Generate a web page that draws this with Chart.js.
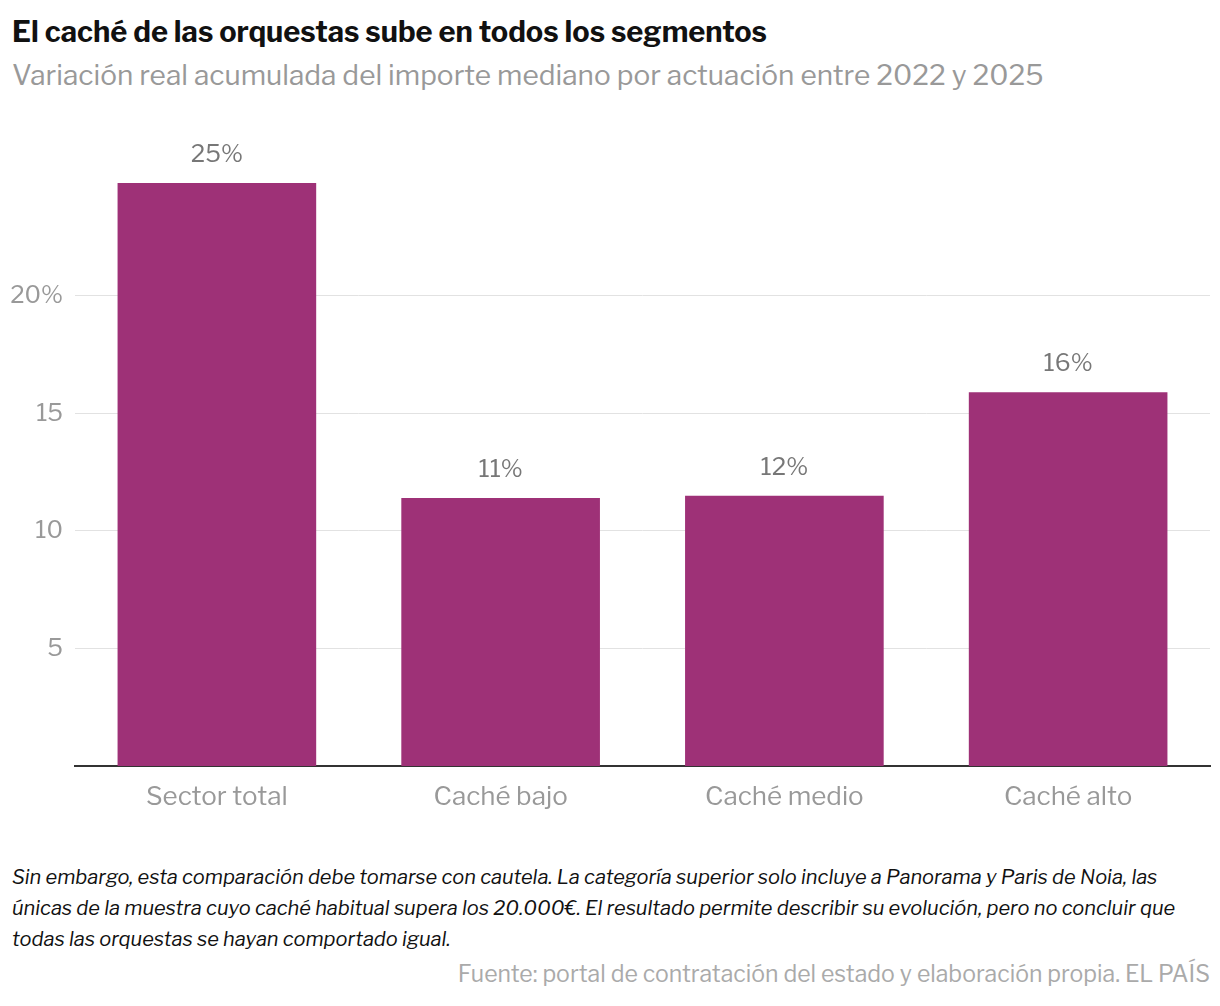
<!DOCTYPE html>
<html><head><meta charset="utf-8">
<script src="https://cdn.jsdelivr.net/npm/chart.js@4"></script>
<style>
body{margin:0;width:1220px;height:1006px;background:#fff;font-family:"Libre Franklin","Roboto",sans-serif;position:relative;overflow:hidden}
#t{position:absolute;left:12px;top:14px;font-size:29px;font-weight:bold;color:#111}
#s{position:absolute;left:12px;top:58px;font-size:28px;color:#999}
#c{position:absolute;left:0;top:105px;width:1220px;height:715px}
#n{position:absolute;left:12px;top:862px;width:1190px;font-size:20px;font-style:italic;line-height:31px;color:#111}
#f{position:absolute;right:10px;top:960px;font-size:23px;color:#aaa}
</style></head><body>
<div id="t">El caché de las orquestas sube en todos los segmentos</div>
<div id="s">Variación real acumulada del importe mediano por actuación entre 2022 y 2025</div>
<div id="c"><canvas id="chart"></canvas></div>
<div id="n">Sin embargo, esta comparación debe tomarse con cautela. La categoría superior solo incluye a Panorama y Paris de Noia, las únicas de la muestra cuyo caché habitual supera los 20.000€. El resultado permite describir su evolución, pero no concluir que todas las orquestas se hayan comportado igual.</div>
<div id="f">Fuente: portal de contratación del estado y elaboración propia. EL PAÍS</div>
<script>
const categories = ['Sector total', 'Caché bajo', 'Caché medio', 'Caché alto'];
const values = [24.8, 11.4, 11.5, 15.9];
const valueLabels = ['25%', '11%', '12%', '16%'];
const tickValues = [5, 10, 15, 20];

// labels above bars
const barLabels = {
    id: 'barLabels',
    afterDatasetsDraw(chart) {
        const ctx = chart.ctx;
        ctx.save();
        ctx.font = '24px "Libre Franklin", Roboto, sans-serif';
        ctx.fillStyle = '#777';
        ctx.textAlign = 'center';
        ctx.textBaseline = 'bottom';
        chart.getDatasetMeta(0).data.forEach((bar, i) => {
            ctx.fillText(valueLabels[i], bar.x, bar.y - 16);
        });
        ctx.restore();
    }
};

new Chart(document.getElementById('chart'), {
    type: 'bar',
    data: {
        labels: categories,
        datasets: [{
            data: values,
            backgroundColor: '#9e3177',
            barPercentage: 0.7,
            categoryPercentage: 1
        }]
    },
    options: {
        responsive: true,
        maintainAspectRatio: false,
        animation: false,
        layout: { padding: { top: 8, right: 10 } },
        plugins: { legend: { display: false }, tooltip: { enabled: false } },
        scales: {
            x: {
                grid: { display: false },
                border: { color: '#333', width: 2 },
                ticks: { color: '#999', font: { size: 26, family: '"Libre Franklin", Roboto, sans-serif' }, padding: 8 },
                afterFit: s => { s.height = 54; }
            },
            y: {
                min: 0,
                max: 27,
                border: { display: false },
                grid: { color: '#e2e2e2', drawTicks: false },
                afterBuildTicks: s => { s.ticks = tickValues.map(v => ({ value: v })); },
                afterFit: s => { s.width = 75; },
                ticks: {
                    color: '#999',
                    padding: 12,
                    font: { size: 24, family: '"Libre Franklin", Roboto, sans-serif' },
                    callback: v => v === 20 ? '20%' : v
                }
            }
        }
    },
    plugins: [barLabels]
});
</script>
</body></html>
